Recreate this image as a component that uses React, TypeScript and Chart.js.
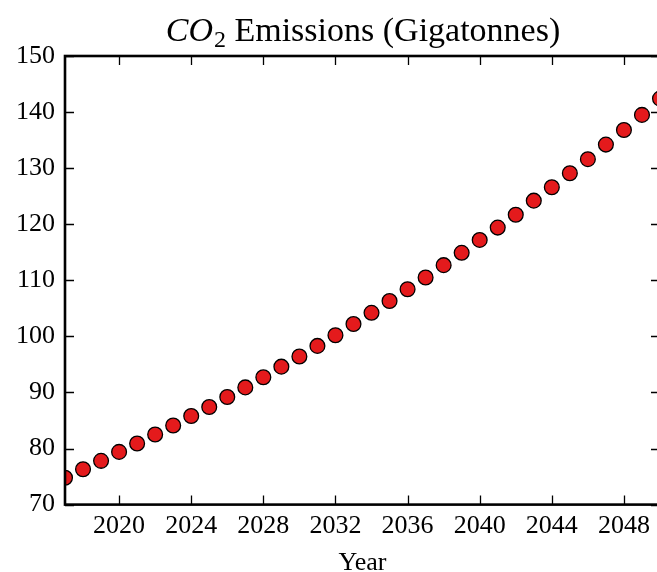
import React, { useEffect, useRef } from 'react';
import { Chart, registerables } from 'chart.js';

Chart.register(...registerables);

const YEARS = [2017, 2018, 2019, 2020, 2021, 2022, 2023, 2024, 2025, 2026, 2027, 2028, 2029, 2030, 2031, 2032, 2033, 2034, 2035, 2036, 2037, 2038, 2039, 2040, 2041, 2042, 2043, 2044, 2045, 2046, 2047, 2048, 2049, 2050];
const EMISSIONS = [74.8, 76.3, 77.8, 79.4, 80.9, 82.5, 84.1, 85.8, 87.4, 89.2, 90.9, 92.7, 94.6, 96.4, 98.3, 100.2, 102.2, 104.2, 106.3, 108.4, 110.5, 112.7, 114.9, 117.2, 119.4, 121.7, 124.2, 126.6, 129.1, 131.6, 134.2, 136.8, 139.5, 142.4];
const X_TICKS = [2020, 2024, 2028, 2032, 2036, 2040, 2044, 2048];
const Y_TICKS = [70, 80, 90, 100, 110, 120, 130, 140, 150];
const X_MIN = 2017;
const X_MAX = 2050;
const Y_MIN = 70;
const Y_MAX = 150;
const TITLE_MATH = 'CO';
const TITLE_SUB = '2';
const TITLE_REST = ' Emissions (Gigatonnes)';
const X_LABEL = 'Year';

const FONT = '"Liberation Serif", "Times New Roman", serif';

const framePlugin = {
  id: 'frame',
  afterDatasetsDraw(chart: any) {
    const { ctx, chartArea: a, scales } = chart;
    const x = scales.x;
    const y = scales.y;
    ctx.save();
    ctx.strokeStyle = '#000';
    ctx.lineWidth = 1.3;
    const L = 9;
    ctx.beginPath();
    for (const v of X_TICKS) {
      const px = Math.round(x.getPixelForValue(v)) + 0.5;
      ctx.moveTo(px, a.bottom);
      ctx.lineTo(px, a.bottom - L);
      ctx.moveTo(px, a.top);
      ctx.lineTo(px, a.top + L);
    }
    for (const v of Y_TICKS) {
      const py = Math.round(y.getPixelForValue(v)) + 0.5;
      ctx.moveTo(a.left, py);
      ctx.lineTo(a.left + L, py);
      ctx.moveTo(a.right, py);
      ctx.lineTo(a.right - L, py);
    }
    ctx.stroke();
    ctx.lineWidth = 2.6;
    ctx.strokeRect(a.left, a.top, a.right - a.left, a.bottom - a.top);
    ctx.restore();
  },
};

const titlePlugin = {
  id: 'mathTitle',
  afterDraw(chart: any) {
    const { ctx, chartArea: a } = chart;
    ctx.save();
    ctx.fillStyle = '#000';
    ctx.textBaseline = 'alphabetic';
    ctx.textAlign = 'left';
    const big = 34;
    const small = 24;
    const fMath = `italic ${big}px ${FONT}`;
    const fSub = `${small}px ${FONT}`;
    const fRest = `${big}px ${FONT}`;
    ctx.font = fMath;
    const w1 = ctx.measureText(TITLE_MATH).width;
    ctx.font = fSub;
    const w2 = ctx.measureText(TITLE_SUB).width;
    ctx.font = fRest;
    const w3 = ctx.measureText(TITLE_REST).width;
    const total = w1 + w2 + w3;
    const cx = (a.left + a.right) / 2;
    let px = cx - total / 2;
    const base = 41;
    ctx.font = fMath;
    ctx.fillText(TITLE_MATH, px, base);
    px += w1 + 1;
    ctx.font = fSub;
    ctx.fillText(TITLE_SUB, px, base + 6);
    px += w2;
    ctx.font = fRest;
    ctx.fillText(TITLE_REST, px, base);
    ctx.restore();
  },
};

export default function App() {
  const ref = useRef<HTMLCanvasElement | null>(null);
  useEffect(() => {
    if (!ref.current) return;
    const chart = new Chart(ref.current, {
      type: 'scatter',
      data: {
        datasets: [
          {
            label: 'CO2',
            data: YEARS.map((yr, i) => ({ x: yr, y: EMISSIONS[i] })),
            backgroundColor: '#e41a1c',
            borderColor: '#000',
            borderWidth: 1.3,
            pointRadius: 7.4,
            pointHoverRadius: 7.4,
            clip: 0,
          } as any,
        ],
      },
      options: {
        animation: false,
        responsive: false,
        devicePixelRatio: 1,
        layout: { autoPadding: false, padding: { top: 56, left: 6, right: 0, bottom: 0 } },
        plugins: {
          legend: { display: false },
          tooltip: { enabled: false },
          title: { display: false },
        },
        scales: {
          x: {
            type: 'linear',
            min: X_MIN,
            max: X_MAX,
            afterBuildTicks: (s: any) => {
              s.ticks = X_TICKS.map((v) => ({ value: v }));
            },
            grid: { display: false, drawTicks: false },
            border: { display: false },
            ticks: {
              padding: 6,
              color: '#000',
              font: { family: FONT, size: 26 },
              maxRotation: 0,
              autoSkip: false,
              callback: (v: any) => String(v),
            },
            title: {
              display: true,
              text: X_LABEL,
              color: '#000',
              font: { family: FONT, size: 26 },
              padding: { top: 0, bottom: -7 },
            },
          },
          y: {
            type: 'linear',
            min: Y_MIN,
            max: Y_MAX,
            afterBuildTicks: (s: any) => {
              s.ticks = Y_TICKS.map((v) => ({ value: v }));
            },
            grid: { display: false, drawTicks: false },
            border: { display: false },
            ticks: {
              padding: 10,
              color: '#000',
              font: { family: FONT, size: 26 },
              autoSkip: false,
              callback: (v: any) => String(v),
            },
          },
        },
      },
      plugins: [framePlugin, titlePlugin],
    });
    return () => chart.destroy();
  }, []);
  return (
    <div style={{ position: 'fixed', left: 0, top: 0, width: 657, height: 572, overflow: 'hidden', background: '#fff' }}>
      <canvas ref={ref} width={660} height={572} style={{ display: 'block', width: 660, height: 572 }} />
    </div>
  );
}
